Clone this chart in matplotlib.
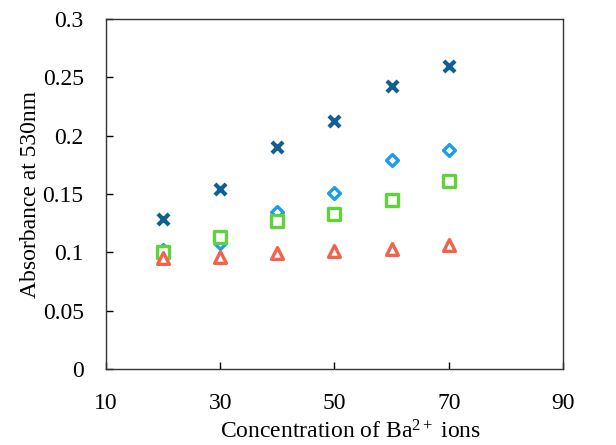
import matplotlib.pyplot as plt

plt.rcParams['font.family'] = ['Liberation Serif', 'DejaVu Serif']
plt.rcParams['mathtext.fontset'] = 'custom'
plt.rcParams['mathtext.rm'] = 'Liberation Serif'
plt.rcParams['mathtext.it'] = 'Liberation Serif:italic'

# Data
conc = [20, 30, 40, 50, 60, 70]
series_x = [0.129, 0.154, 0.190, 0.213, 0.243, 0.260]
series_diamond = [0.102, 0.108, 0.135, 0.151, 0.179, 0.188]
series_square = [0.100, 0.113, 0.127, 0.133, 0.145, 0.161]
series_triangle = [0.095, 0.096, 0.099, 0.101, 0.103, 0.106]

fig = plt.figure(figsize=(6.16, 4.45), dpi=100)
ax = fig.add_axes([0.172, 0.171, 0.742, 0.786])

ax.scatter(conc, series_x, marker='x', s=64, linewidths=3.0, color='#0f5f92', zorder=3)
ax.scatter(conc, series_diamond, marker='D', s=36, facecolors='white',
           edgecolors='#1a9cf2', linewidths=2.4, zorder=3)
ax.scatter(conc, series_square, marker='s', s=72, facecolors='white',
           edgecolors='#5ed43a', linewidths=2.4, zorder=4)
ax.scatter(conc, series_triangle, marker='^', s=72, facecolors='white',
           edgecolors='#f4614d', linewidths=2.4, zorder=5)

ax.set_xlim(10, 90)
ax.set_ylim(0, 0.3)
ax.set_xticks([10, 30, 50, 70, 90])
ax.set_yticks([0, 0.05, 0.1, 0.15, 0.2, 0.25, 0.3])
ax.set_yticklabels(['0', '0.05', '0.1', '0.15', '0.2', '0.25', '0.3'])
ax.tick_params(direction='in', length=5, width=1, labelsize=17)
ax.tick_params(axis='y', pad=16)
ax.tick_params(axis='x', pad=17)

for sp in ax.spines.values():
    sp.set_linewidth(1)
    sp.set_color('#333333')

ax.set_xlabel(r'Concentration of Ba$^{2+}$ ions', fontsize=17, va='center')
ax.xaxis.set_label_coords(0.536, -0.18)
ax.set_ylabel('Absorbance at 530nm', fontsize=17, va='center')
ax.yaxis.set_label_coords(-0.166, 0.5)

fig.savefig('out.png', dpi=100)
